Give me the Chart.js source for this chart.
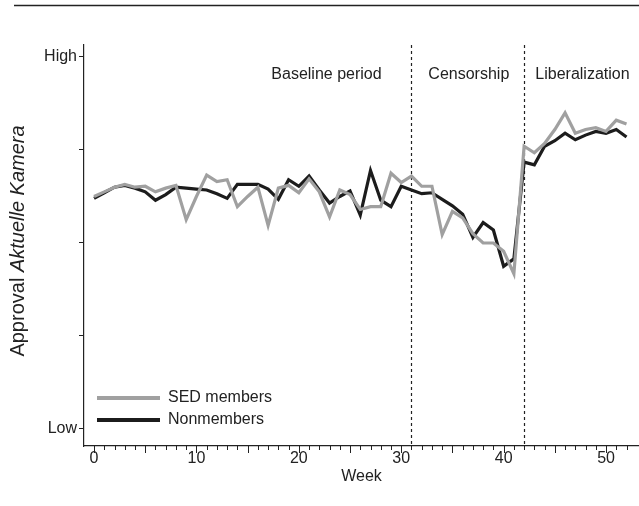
<!DOCTYPE html>
<html>
<head>
<meta charset="utf-8">
<style>
  body { margin: 0; background: #fff; }
  #chart { display: block; }
</style>
</head>
<body>
<canvas id="chart" width="639" height="506"></canvas>
<script src="https://cdn.jsdelivr.net/npm/chart.js@4.4.1/dist/chart.umd.min.js"></script>
<script>
// Data
const weeks = [0, 1, 2, 3, 4, 5, 6, 7, 8, 9, 10, 11, 12, 13, 14, 15, 16, 17, 18, 19, 20,
  21, 22, 23, 24, 25, 26, 27, 28, 29, 30, 31, 32, 33, 34, 35, 36, 37, 38, 39, 40,
  41, 42, 43, 44, 45, 46, 47, 48, 49, 50, 51, 52];

// approval on a Low (0) .. High (4) scale
const sedMembers = [2.50, 2.55, 2.60, 2.63, 2.60, 2.61, 2.55, 2.59, 2.62, 2.25,
  2.50, 2.73, 2.66, 2.68, 2.39, 2.50, 2.60, 2.19, 2.59, 2.62,
  2.54, 2.69, 2.55, 2.28, 2.57, 2.52, 2.36, 2.39, 2.39, 2.75,
  2.65, 2.72, 2.61, 2.61, 2.09, 2.34, 2.27, 2.10, 2.00, 2.00,
  1.91, 1.67, 3.04, 2.97, 3.07, 3.22, 3.40, 3.18, 3.22, 3.24,
  3.20, 3.32, 3.28];

const nonmembers = [2.48, 2.54, 2.60, 2.62, 2.59, 2.55, 2.46, 2.52, 2.60, 2.59,
  2.58, 2.57, 2.53, 2.48, 2.63, 2.63, 2.63, 2.58, 2.47, 2.68,
  2.61, 2.72, 2.57, 2.43, 2.50, 2.56, 2.30, 2.78, 2.46, 2.39,
  2.61, 2.57, 2.53, 2.54, 2.47, 2.40, 2.31, 2.06, 2.22, 2.14,
  1.75, 1.83, 2.87, 2.84, 3.04, 3.10, 3.18, 3.11, 3.16, 3.20,
  3.18, 3.22, 3.14];

const seriesNames = ['SED members', 'Nonmembers'];
const yTickValues = [0, 1, 2, 3, 4];
const yTickLabels = ['Low', '', '', '', 'High'];
const xTickValues = [0, 10, 20, 30, 40, 50];
const periodStarts = [31, 42];
const periodNames = ['Baseline period', 'Censorship', 'Liberalization'];

// Layout / style
const periodLabelAt = [22.7, 36.6, 47.7];
const FONT = '"Liberation Sans", Arial, sans-serif';
const INK = '#222';
const colors = ['#a0a0a0', '#1c1c1c'];

function toPoints(vals) {
  return weeks.map((w, i) => ({ x: w, y: vals[i] }));
}

function line(ctx, x1, y1, x2, y2) {
  ctx.beginPath();
  ctx.moveTo(x1, y1);
  ctx.lineTo(x2, y2);
  ctx.stroke();
}

const decorations = {
  id: 'decorations',
  beforeDatasetsDraw(chart) {
    const { ctx, chartArea: a, scales: { x } } = chart;
    ctx.save();
    ctx.strokeStyle = INK;
    ctx.lineWidth = 1.2;
    ctx.setLineDash([3, 3]);
    periodStarts.forEach(w => {
      const px = Math.round(x.getPixelForValue(w)) + 0.5;
      line(ctx, px, a.top, px, a.bottom);
    });
    ctx.restore();
  },
  afterDraw(chart) {
    const { ctx, chartArea: a, scales: { x } } = chart;
    ctx.save();
    ctx.strokeStyle = INK;
    ctx.fillStyle = INK;

    // rule across the top of the page
    ctx.lineWidth = 1.5;
    line(ctx, 14, 5.5, 639, 5.5);

    // week tick marks
    ctx.lineWidth = 1;
    weeks.forEach(w => {
      const px = Math.round(x.getPixelForValue(w)) + 0.5;
      line(ctx, px, a.bottom, px, a.bottom + (w % 5 === 0 ? 7 : 4));
    });

    // period labels
    ctx.font = '16px ' + FONT;
    ctx.textAlign = 'center';
    ctx.textBaseline = 'middle';
    periodNames.forEach((name, i) => {
      ctx.fillText(name, x.getPixelForValue(periodLabelAt[i]), 75);
    });

    // x title
    ctx.font = '16px ' + FONT;
    ctx.fillText('Week', (a.left + a.right) / 2, 477);

    // y title with italic programme name
    ctx.translate(18, 241);
    ctx.rotate(-Math.PI / 2);
    const plain = 'Approval ';
    const ital = 'Aktuelle Kamera';
    const size = '20px ';
    ctx.font = size + FONT;
    const w1 = ctx.measureText(plain).width;
    ctx.font = 'italic ' + size + FONT;
    const w2 = ctx.measureText(ital).width;
    ctx.textAlign = 'left';
    ctx.font = size + FONT;
    ctx.fillText(plain, -(w1 + w2) / 2, 0);
    ctx.font = 'italic ' + size + FONT;
    ctx.fillText(ital, -(w1 + w2) / 2 + w1, 0);
    ctx.setTransform(1, 0, 0, 1, 0, 0);

    // legend
    ctx.font = '16px ' + FONT;
    ctx.textAlign = 'left';
    ctx.lineWidth = 4;
    seriesNames.forEach((name, i) => {
      const ly = 398 + i * 22;
      ctx.strokeStyle = colors[i];
      line(ctx, 97, ly, 160, ly);
      ctx.fillStyle = INK;
      ctx.fillText(name, 168, ly);
    });
    ctx.restore();
  }
};

new Chart(document.getElementById('chart'), {
  type: 'line',
  data: {
    datasets: [
      { label: seriesNames[0], data: toPoints(sedMembers), borderColor: colors[0], borderWidth: 3.2 },
      { label: seriesNames[1], data: toPoints(nonmembers), borderColor: colors[1], borderWidth: 3.2 }
    ]
  },
  options: {
    responsive: false,
    animation: false,
    layout: { padding: { top: 45, right: 0, left: 0, bottom: 0 } },
    elements: { point: { radius: 0 }, line: { tension: 0, borderJoinStyle: 'miter' } },
    plugins: { legend: { display: false }, tooltip: { enabled: false } },
    scales: {
      x: {
        type: 'linear',
        min: -0.98,
        max: 53.22,
        grid: { display: false, drawTicks: false },
        border: { color: INK, width: 1.2 },
        afterBuildTicks: s => { s.ticks = xTickValues.map(v => ({ value: v })); },
        afterFit: s => { s.height = 60; },
        ticks: { color: INK, font: { family: FONT, size: 16 }, padding: 3, maxRotation: 0 }
      },
      y: {
        min: -0.183,
        max: 4.129,
        grid: { drawOnChartArea: false, tickLength: 5, tickColor: INK, tickWidth: 1 },
        border: { color: INK, width: 1.2 },
        afterBuildTicks: s => { s.ticks = yTickValues.map(v => ({ value: v })); },
        afterFit: s => { s.width = 84; },
        ticks: {
          color: INK,
          font: { family: FONT, size: 16 },
          padding: 2,
          callback: (v, i) => yTickLabels[i]
        }
      }
    }
  },
  plugins: [decorations]
});
</script>
</body>
</html>
